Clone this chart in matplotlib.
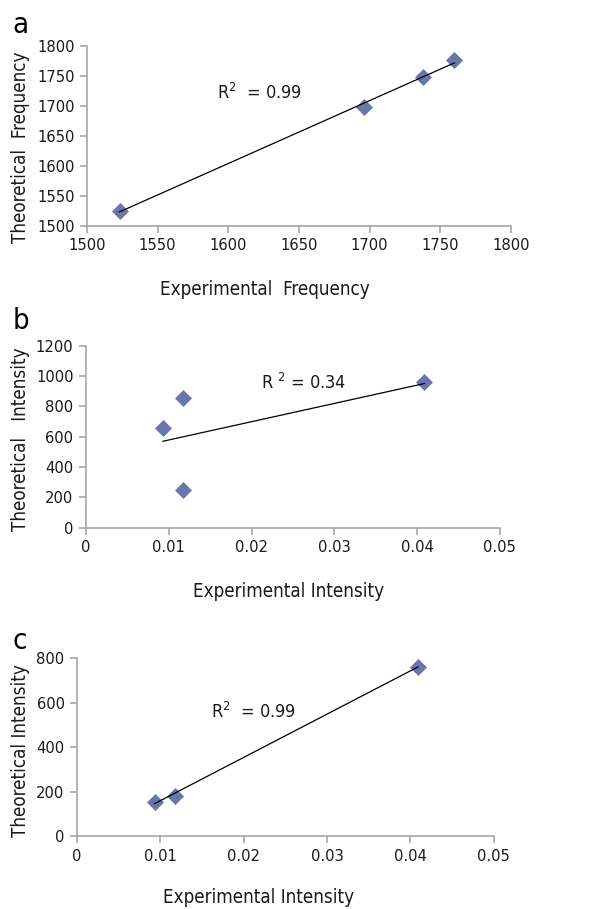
import numpy as np
import matplotlib
matplotlib.use("Agg")
import matplotlib.pyplot as plt

# panel a: frequencies
freq_exp = [1523, 1696, 1738, 1760]
freq_theo = [1525, 1699, 1749, 1776]

# panel b: intensities (all modes)
int_exp_b = [0.0093, 0.0117, 0.0117, 0.0409]
int_theo_b = [659, 853, 248, 958]

# panel c: intensities (selected modes)
int_exp_c = [0.0093, 0.0117, 0.0409]
int_theo_c = [155, 182, 762]

plt.rcParams['font.family'] = ['DejaVu Sans']
plt.rcParams['font.stretch'] = 'condensed'

MARKER_COLOR = '#6a76aa'
AXIS_COLOR = '#a6a6a6'
TEXT_COLOR = '#1a1a1a'
LABEL_SIZE = 13.5

fig = plt.figure(figsize=(5.98, 9.09), dpi=100)


def panel(rect, x, y, xlim, ylim, xticks, yticks, r2_text, r2_pos):
    ax = fig.add_axes(rect)
    ax.scatter(x, y, marker='D', s=75, color=MARKER_COLOR, zorder=3, linewidths=0)
    # linear trend line between data extremes
    coef = np.polyfit(x, y, 1)
    xs = np.array([min(x), max(x)])
    ax.plot(xs, np.polyval(coef, xs), color='black', lw=0.9, zorder=4)
    ax.set_xlim(*xlim)
    ax.set_ylim(*ylim)
    ax.set_xticks(xticks)
    ax.set_xticklabels([f"{t:g}" for t in xticks])
    ax.set_yticks(yticks)
    for s in ['top', 'right']:
        ax.spines[s].set_visible(False)
    for s in ['left', 'bottom']:
        ax.spines[s].set_color(AXIS_COLOR)
        ax.spines[s].set_linewidth(1.2)
    ax.tick_params(direction='out', length=5, width=1.2, color=AXIS_COLOR,
                   labelsize=11.8, labelcolor=TEXT_COLOR, pad=4)
    ax.text(r2_pos[0], r2_pos[1], r2_text, fontsize=13, color=TEXT_COLOR,
            ha='left', va='center')
    return ax


# panel a
panel([0.1455, 0.7514, 0.709, 0.198], freq_exp, freq_theo,
      (1500, 1800), (1500, 1800), [1500, 1550, 1600, 1650, 1700, 1750, 1800],
      [1500, 1550, 1600, 1650, 1700, 1750, 1800],
      'R$^{2}$  = 0.99', (1592, 1722))
fig.text(0.034, 0.838, 'Theoretical  Frequency', rotation=90, fontsize=LABEL_SIZE,
         color=TEXT_COLOR, ha='center', va='center')
fig.text(0.443, 0.681, 'Experimental  Frequency', fontsize=LABEL_SIZE,
         color=TEXT_COLOR, ha='center', va='center')
fig.text(0.021, 0.973, 'a', fontsize=21, color='black', ha='left', va='center')

# panel b
panel([0.1438, 0.4195, 0.692, 0.2002], int_exp_b, int_theo_b,
      (0, 0.05), (0, 1200), [0, 0.01, 0.02, 0.03, 0.04, 0.05],
      [0, 200, 400, 600, 800, 1000, 1200],
      'R $^{2}$ = 0.34', (0.0212, 954))
fig.text(0.034, 0.517, 'Theoretical   Intensity', rotation=90, fontsize=LABEL_SIZE,
         color=TEXT_COLOR, ha='center', va='center')
fig.text(0.483, 0.349, 'Experimental Intensity', fontsize=LABEL_SIZE,
         color=TEXT_COLOR, ha='center', va='center')
fig.text(0.021, 0.647, 'b', fontsize=21, color='black', ha='left', va='center')

# panel c
panel([0.1288, 0.0803, 0.697, 0.1955], int_exp_c, int_theo_c,
      (0, 0.05), (0, 800), [0, 0.01, 0.02, 0.03, 0.04, 0.05],
      [0, 200, 400, 600, 800],
      'R$^{2}$  = 0.99', (0.0161, 558))
fig.text(0.034, 0.174, 'Theoretical Intensity', rotation=90, fontsize=LABEL_SIZE,
         color=TEXT_COLOR, ha='center', va='center')
fig.text(0.432, 0.013, 'Experimental Intensity', fontsize=LABEL_SIZE,
         color=TEXT_COLOR, ha='center', va='center')
fig.text(0.021, 0.295, 'c', fontsize=21, color='black', ha='left', va='center')

fig.savefig('out.png', dpi=100)
